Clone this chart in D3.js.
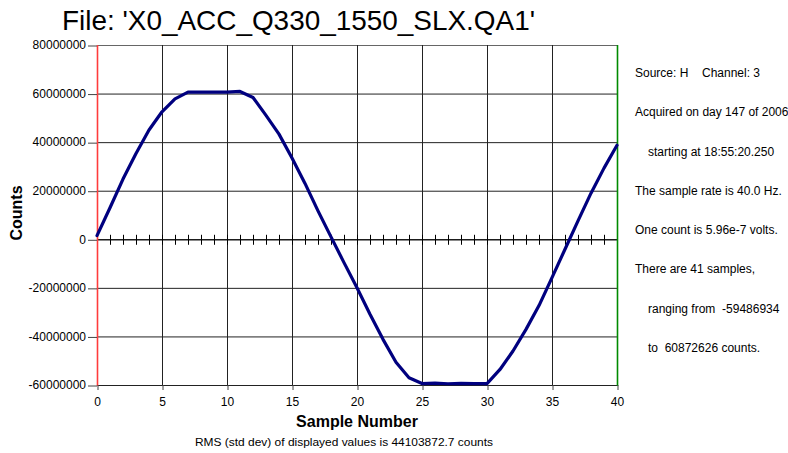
<!DOCTYPE html>
<html><head><meta charset="utf-8">
<script src="https://cdn.jsdelivr.net/npm/d3@7"></script>
<style>
body{margin:0;background:#fff;}
text{font-family:Arial,"Liberation Sans",sans-serif;fill:#000;}
</style></head>
<body>
<svg id="chart" width="788" height="453"></svg>
<script>
// ---- data ----
const titleText = "File: 'X0_ACC_Q330_1550_SLX.QA1'";
const xLabel = "Sample Number";
const yLabel = "Counts";
const rmsText = "RMS (std dev) of displayed values is 44103872.7 counts";
const sampleNumbers = d3.range(0, 41);
const countValues = [
  1500000, 13000000, 24800000, 35300000, 45000000, 52500000, 57800000, 60600000,
  60600000, 60600000, 60600000, 60872626, 58400000, 51000000, 43300000, 33500000,
  23000000, 11700000, 1000000, -9600000, -20000000, -30900000, -41200000, -50600000,
  -57000000, -59400000, -59200000, -59486934, -59300000, -59450000, -59400000, -53600000,
  -46000000, -37100000, -27300000, -15800000, -4100000, 7600000, 19000000, 29300000,
  38700000
];
const xTicks = [0, 5, 10, 15, 20, 25, 30, 35, 40];
const yTicks = [-60000000, -40000000, -20000000, 0, 20000000, 40000000, 60000000, 80000000];
const infoLines = [
  "Source: H|Channel: 3",
  "Acquired on day 147 of 2006",
  "   starting at 18:55:20.250",
  "The sample rate is 40.0 Hz.",
  "One count is 5.96e-7 volts.",
  "There are 41 samples,",
  "   ranging from  -59486934",
  "   to  60872626 counts."
];

// ---- layout ----
const svg = d3.select("#chart");
const L = 97, R = 617, T = 45, B = 385;
const x = d3.scaleLinear().domain([0, 40]).range([L, R]);
const y = d3.scaleLinear().domain([-60000000, 80000000]).range([B, T]);

svg.append("rect").attr("width", 788).attr("height", 453).attr("fill", "#fff");

// title
svg.append("text").attr("x", 62).attr("y", 29.5)
  .attr("font-size", 28).attr("textLength", 473).attr("lengthAdjust", "spacingAndGlyphs")
  .text(titleText);

// grid
const g = svg.append("g");
g.selectAll("line.h").data(yTicks).join("line")
  .attr("x1", L).attr("x2", R).attr("y1", d => y(d) + 0.5).attr("y2", d => y(d) + 0.5)
  .attr("stroke", d => d === 80000000 ? "#666" : "#222").attr("stroke-width", 1);
g.selectAll("line.v").data(xTicks.filter(d => d > 0 && d < 40)).join("line")
  .attr("y1", T).attr("y2", B).attr("x1", d => x(d) + 0.5).attr("x2", d => x(d) + 0.5)
  .attr("stroke", "#222").attr("stroke-width", 1);

// zero line minor ticks
const minor = svg.append("g").attr("transform", `translate(0,${y(0) - 5 + 0.5})`)
  .call(d3.axisBottom(x).tickValues(sampleNumbers.filter(d => d > 0 && d < 40)).tickSize(10).tickFormat(""));
minor.select(".domain").remove();
minor.selectAll("line").attr("stroke", "#000");
svg.append("line").attr("x1", L).attr("x2", R).attr("y1", y(0) + 0.5).attr("y2", y(0) + 0.5)
  .attr("stroke", "#000").attr("stroke-width", 1);

// left/right border lines
svg.append("line").attr("x1", L + 0.5).attr("x2", L + 0.5).attr("y1", T).attr("y2", B + 1)
  .attr("stroke", "#ff3c3c").attr("stroke-width", 1.6);
svg.append("line").attr("x1", R + 0.5).attr("x2", R + 0.5).attr("y1", T).attr("y2", B + 1)
  .attr("stroke", "#008a00").attr("stroke-width", 1.6);

// y axis
const ya = svg.append("g").attr("transform", `translate(${L},0)`)
  .call(d3.axisLeft(y).tickValues(yTicks).tickSize(9).tickPadding(2).tickFormat(d => String(d)));
ya.select(".domain").remove();
ya.selectAll("line").attr("stroke", "#444").attr("transform", "translate(0,0.5)");
ya.selectAll("text").attr("font-size", 12).attr("font-family", "Arial, 'Liberation Sans', sans-serif").attr("fill", "#000");

// x axis
const xa = svg.append("g").attr("transform", `translate(0,${B})`)
  .call(d3.axisBottom(x).tickValues(xTicks).tickSize(5).tickPadding(7).tickFormat(d => String(d)));
xa.select(".domain").remove();
xa.selectAll("line").attr("stroke", "#444").attr("transform", "translate(0.5,0)");
xa.selectAll("text").attr("font-size", 12).attr("font-family", "Arial, 'Liberation Sans', sans-serif").attr("fill", "#000");

// curve
const line = d3.line().x((d, i) => x(sampleNumbers[i])).y(d => y(d));
svg.append("path").datum(countValues).attr("d", line)
  .attr("fill", "none").attr("stroke", "#00007f").attr("stroke-width", 3.2)
  .attr("stroke-linejoin", "round").attr("stroke-linecap", "round");

// axis labels
svg.append("text").attr("x", (L + R) / 2).attr("y", 427).attr("text-anchor", "middle")
  .attr("font-size", 16).attr("font-weight", "bold").text(xLabel);
svg.append("text").attr("transform", "translate(22,213) rotate(-90)").attr("text-anchor", "middle")
  .attr("font-size", 16).attr("font-weight", "bold").text(yLabel);
svg.append("text").attr("x", 195).attr("y", 446)
  .attr("font-size", 11).attr("textLength", 298).attr("lengthAdjust", "spacingAndGlyphs").text(rmsText);

// info panel
const info = svg.append("g");
infoLines.forEach((s, i) => {
  const yy = 77 + 39.25 * i;
  const indent = s.startsWith("   ");
  const parts = s.trim().split("|");
  const t = info.append("text").attr("x", indent ? 648 : 635).attr("y", yy)
    .attr("font-size", 12).style("white-space", "pre");
  t.append("tspan").text(parts[0]);
  if (parts[1]) t.append("tspan").attr("x", 702).text(parts[1]);
});
</script>
</body></html>
